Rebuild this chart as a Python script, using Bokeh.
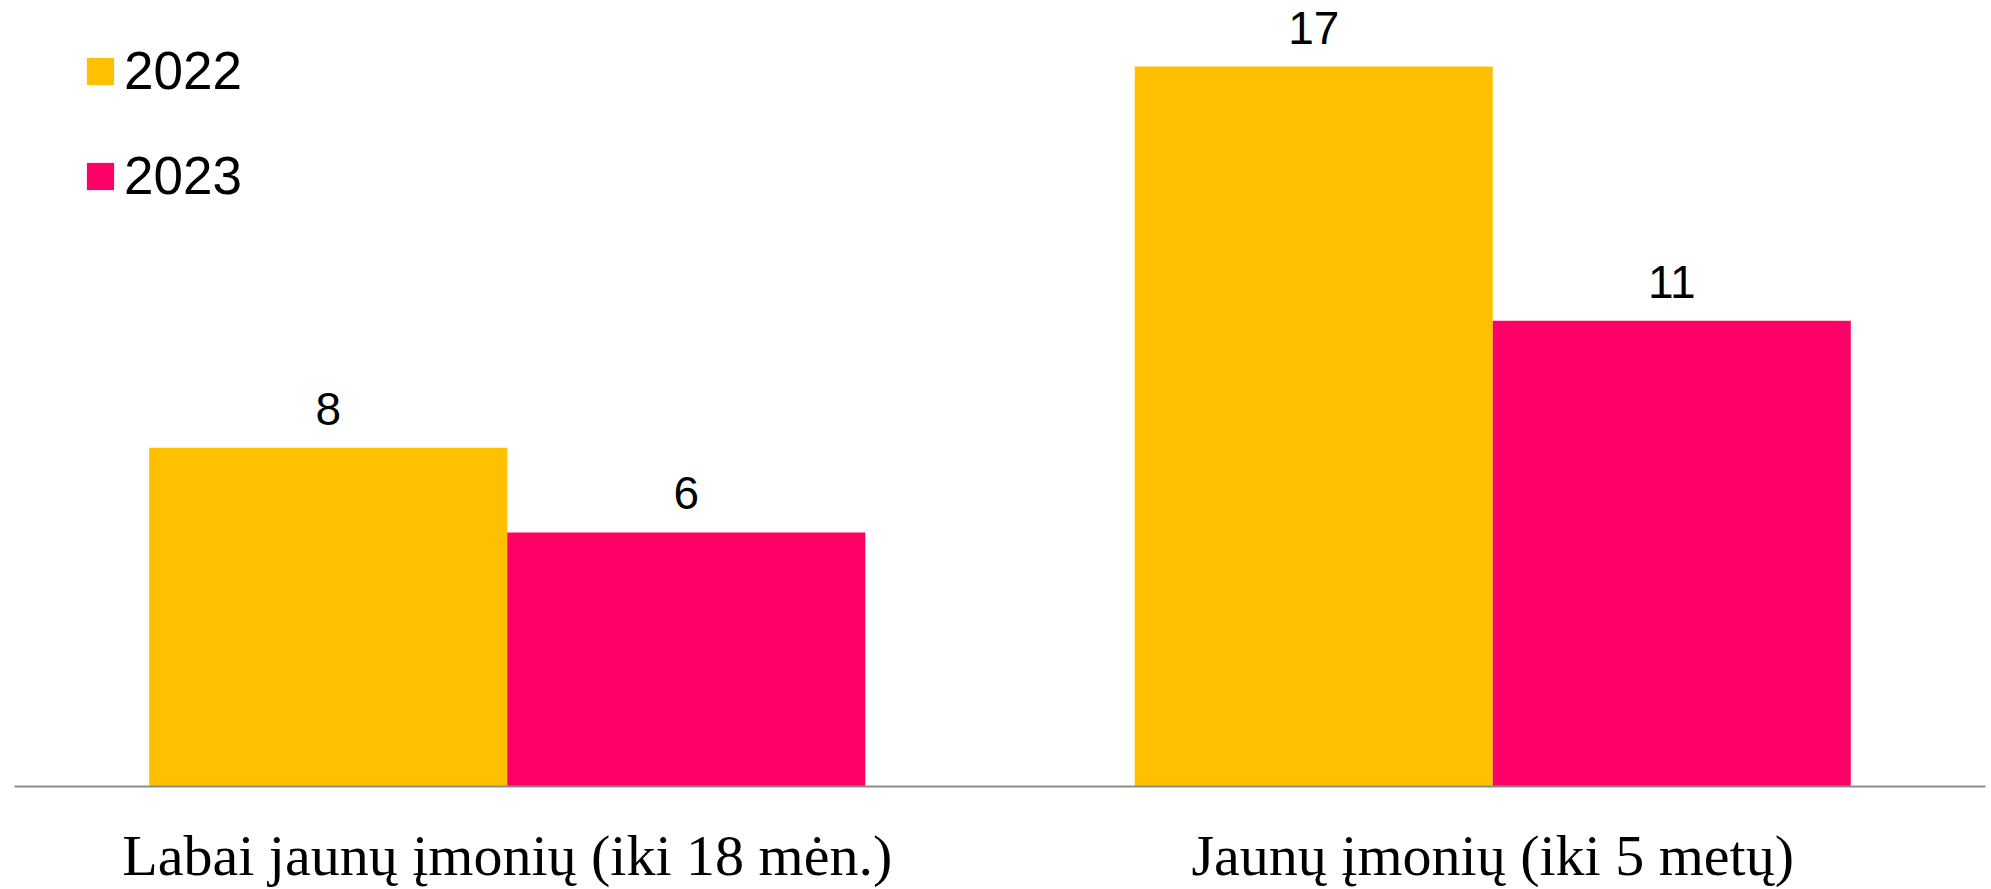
from bokeh.plotting import figure
from bokeh.models import FactorRange, ColumnDataSource, Legend, LegendItem, Range1d
from bokeh.transform import dodge
from bokeh.core.properties import value
from bokeh.embed import file_html
from bokeh.resources import INLINE

categories = ["Labai jaunų įmonių (iki 18 mėn.)", "Jaunų įmonių (iki 5 metų)"]
years = ["2022", "2023"]
values_2022 = [8, 17]
values_2023 = [6, 11]
colors = ["#FFC000", "#FF0066"]

src = ColumnDataSource(dict(cat=categories, v2022=values_2022, v2023=values_2023,
                            l2022=[str(v) for v in values_2022],
                            l2023=[str(v) for v in values_2023]))

p = figure(x_range=FactorRange(*categories), y_range=Range1d(0, 18.37),
           frame_width=1971, frame_height=778,
           min_border_left=14, min_border_right=6, min_border_top=8, min_border_bottom=0,
           output_backend="svg", toolbar_location=None)

bw = 0.3633
r1 = p.vbar(x=dodge("cat", -bw / 2, range=p.x_range), top="v2022", width=bw, source=src,
            fill_color=colors[0], line_color=None)
r2 = p.vbar(x=dodge("cat", bw / 2, range=p.x_range), top="v2023", width=bw, source=src,
            fill_color=colors[1], line_color=None)

for col, off in (("2022", -bw / 2), ("2023", bw / 2)):
    p.text(x=dodge("cat", off, range=p.x_range), y="v" + col, text="l" + col, source=src,
           text_align="center", text_baseline="alphabetic", y_offset=-39,
           text_font=value("Liberation Sans"), text_font_size="46px", text_color="black")

legend = Legend(items=[LegendItem(label=years[0], renderers=[r1]),
                       LegendItem(label=years[1], renderers=[r2])],
                location=(69, 580), orientation="vertical",
                glyph_width=34, glyph_height=34, label_height=27,
                label_standoff=7, spacing=44, padding=0, margin=0,
                border_line_color=None, background_fill_alpha=0,
                label_text_font="Liberation Sans", label_text_font_size="53px",
                label_text_color="black", label_text_baseline="middle")
p.add_layout(legend)

p.yaxis.visible = False
p.xgrid.visible = False
p.ygrid.visible = False
p.outline_line_color = None
p.xaxis.axis_line_color = "#8c8c8c"
p.xaxis.axis_line_width = 2
p.xaxis.major_tick_line_color = None
p.xaxis.minor_tick_line_color = None
p.xaxis.major_label_standoff = 30
p.xaxis.major_label_text_font = "Liberation Serif"
p.xaxis.major_label_text_font_size = "58px"
p.xaxis.major_label_text_color = "black"

open("out.html", "w").write(file_html(p, INLINE))
